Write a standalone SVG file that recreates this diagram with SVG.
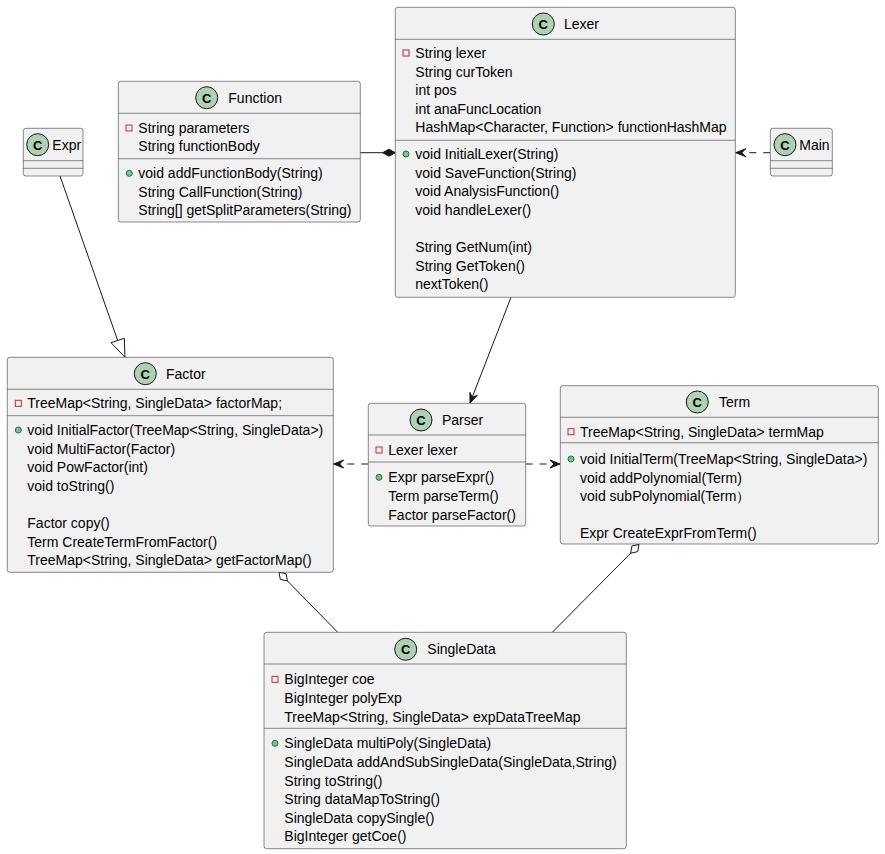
<svg xmlns="http://www.w3.org/2000/svg" width="885" height="854" viewBox="0 0 885 854">
<style>
.box{fill:#F1F1F1;stroke:#181818;stroke-width:0.5}
.sep{stroke:#181818;stroke-width:0.5}
.ci{fill:#ADD1B2;stroke:#181818;stroke-width:1}
.cl{font-family:"Liberation Sans",Arial,sans-serif;font-size:13px;font-weight:bold;fill:#000;text-anchor:middle}
text{font-family:"Liberation Sans",Arial,sans-serif;font-size:14px;fill:#000}
.priv{fill:none;stroke:#C82930;stroke-width:1}
.pub{fill:#84BE84;stroke:#038048;stroke-width:1}
.ln{stroke:#181818;stroke-width:1;fill:none}
.dash{stroke-dasharray:7,7}
</style>
<defs>
<marker id="arr" viewBox="-11 -5 12 10" refX="0" refY="0" markerWidth="12" markerHeight="10" markerUnits="userSpaceOnUse" orient="auto">
<path d="M0,0 L-10,-4 L-6,0 L-10,4 Z" fill="#181818" stroke="#181818" stroke-width="1"/>
</marker>
</defs>

<g id="connectors">
<line class="ln" x1="360.3" y1="152.7" x2="383" y2="152.7"/>
<polygon points="395.3,152.7 389,149.2 382.6,152.7 389,156.2" fill="#181818" stroke="#181818" stroke-width="1"/>
<line class="ln dash" x1="770.3" y1="152.7" x2="735.8" y2="152.7" marker-end="url(#arr)"/>
<line class="ln" x1="511" y1="297.3" x2="470" y2="403" marker-end="url(#arr)"/>
<line class="ln dash" x1="525.7" y1="464" x2="560" y2="464" marker-end="url(#arr)"/>
<line class="ln dash" x1="368.3" y1="464" x2="333.6" y2="464" marker-end="url(#arr)"/>
<line class="ln" x1="60" y1="176" x2="117.7" y2="340.5"/>
<polygon points="125,357.3 111,342.7 124.3,338.3" fill="none" stroke="#181818" stroke-width="1"/>
<polygon points="279,572.3 286.1,573.8 287.4,580.9 280.3,579.4" fill="#FFFFFF" stroke="#181818" stroke-width="1"/>
<line class="ln" x1="287.4" y1="580.9" x2="337.7" y2="632.3"/>
<polygon points="639,544.5 637.7,551.6 630.7,553.2 631.9,546" fill="#FFFFFF" stroke="#181818" stroke-width="1"/>
<line class="ln" x1="630.7" y1="553.2" x2="552.3" y2="632.3"/>
</g>

<g id="Function">
<rect class="box" x="118.3" y="81.3" width="242" height="140.7" rx="2.5"/>
<circle class="ci" cx="206.7" cy="97.7" r="11"/>
<text class="cl" x="206.7" y="102.5">C</text>
<text x="228.3" y="102.7">Function</text>
<line class="sep" x1="118.3" y1="113.3" x2="360.3" y2="113.3"/>
<rect class="priv" x="126" y="125" width="6" height="6"/>
<text x="138.3" y="133">String parameters</text>
<text x="138.3" y="151.3">String functionBody</text>
<line class="sep" x1="118.3" y1="158.7" x2="360.3" y2="158.7"/>
<circle class="pub" cx="129.3" cy="173.3" r="3"/>
<text x="138.3" y="178.3">void addFunctionBody(String)</text>
<text x="138.3" y="196.7">String CallFunction(String)</text>
<text x="138.3" y="215">String[] getSplitParameters(String)</text>
</g>

<g id="Lexer">
<rect class="box" x="395.3" y="7.3" width="340" height="290" rx="2.5"/>
<circle class="ci" cx="543.3" cy="24" r="11"/>
<text class="cl" x="543.3" y="28.8">C</text>
<text x="564" y="29">Lexer</text>
<line class="sep" x1="395.3" y1="39.3" x2="735.3" y2="39.3"/>
<rect class="priv" x="403" y="50" width="6" height="6"/>
<text x="415.3" y="58">String lexer</text>
<text x="415.3" y="76.6">String curToken</text>
<text x="415.3" y="95.2">int pos</text>
<text x="415.3" y="113.8">int anaFuncLocation</text>
<text x="415.3" y="132.4">HashMap&lt;Character, Function&gt; functionHashMap</text>
<line class="sep" x1="395.3" y1="140.3" x2="735.3" y2="140.3"/>
<circle class="pub" cx="406" cy="154" r="3"/>
<text x="415.3" y="159">void InitialLexer(String)</text>
<text x="415.3" y="177.6">void SaveFunction(String)</text>
<text x="415.3" y="196.2">void AnalysisFunction()</text>
<text x="415.3" y="214.8">void handleLexer()</text>
<text x="415.3" y="252">String GetNum(int)</text>
<text x="415.3" y="270.6">String GetToken()</text>
<text x="415.3" y="289.2">nextToken()</text>
</g>

<g id="Main">
<rect class="box" x="770.3" y="128.3" width="62" height="47.7" rx="2.5"/>
<circle class="ci" cx="785" cy="144.7" r="11"/>
<text class="cl" x="785" y="149.5">C</text>
<text x="799.3" y="149.7">Main</text>
<line class="sep" x1="770.3" y1="160.7" x2="832.3" y2="160.7"/>
<line class="sep" x1="770.3" y1="168.3" x2="832.3" y2="168.3"/>
</g>

<g id="Expr">
<rect class="box" x="23.3" y="128.3" width="59.7" height="47.7" rx="2.5"/>
<circle class="ci" cx="37.7" cy="144.7" r="11"/>
<text class="cl" x="37.7" y="149.5">C</text>
<text x="52.3" y="149.7">Expr</text>
<line class="sep" x1="23.3" y1="160.7" x2="83" y2="160.7"/>
<line class="sep" x1="23.3" y1="168.3" x2="83" y2="168.3"/>
</g>

<g id="Factor">
<rect class="box" x="7.3" y="357.3" width="326" height="215" rx="2.5"/>
<circle class="ci" cx="145.3" cy="373.7" r="11"/>
<text class="cl" x="145.3" y="378.5">C</text>
<text x="166" y="378.7">Factor</text>
<line class="sep" x1="7.3" y1="389.3" x2="333.3" y2="389.3"/>
<rect class="priv" x="15.3" y="400.3" width="6" height="6"/>
<text x="27.3" y="408.3">TreeMap&lt;String, SingleData&gt; factorMap;</text>
<line class="sep" x1="7.3" y1="415.7" x2="333.3" y2="415.7"/>
<circle class="pub" cx="18.3" cy="430" r="3"/>
<text x="27.3" y="435">void InitialFactor(TreeMap&lt;String, SingleData&gt;)</text>
<text x="27.3" y="453.6">void MultiFactor(Factor)</text>
<text x="27.3" y="472.2">void PowFactor(int)</text>
<text x="27.3" y="490.8">void toString()</text>
<text x="27.3" y="528">Factor copy()</text>
<text x="27.3" y="546.6">Term CreateTermFromFactor()</text>
<text x="27.3" y="565.2">TreeMap&lt;String, SingleData&gt; getFactorMap()</text>
</g>

<g id="Parser">
<rect class="box" x="368.3" y="403.3" width="157.4" height="122.7" rx="2.5"/>
<circle class="ci" cx="421" cy="420" r="11"/>
<text class="cl" x="421" y="424.8">C</text>
<text x="442" y="425">Parser</text>
<line class="sep" x1="368.3" y1="435" x2="525.7" y2="435"/>
<rect class="priv" x="376" y="447" width="6" height="6"/>
<text x="388.3" y="455">Lexer lexer</text>
<line class="sep" x1="368.3" y1="462" x2="525.7" y2="462"/>
<circle class="pub" cx="379" cy="477.3" r="3"/>
<text x="388.3" y="482.3">Expr parseExpr()</text>
<text x="388.3" y="500.9">Term parseTerm()</text>
<text x="388.3" y="519.5">Factor parseFactor()</text>
</g>

<g id="Term">
<rect class="box" x="560.3" y="385.7" width="318" height="158.3" rx="2.5"/>
<circle class="ci" cx="697.3" cy="402" r="11"/>
<text class="cl" x="697.3" y="406.8">C</text>
<text x="719" y="407">Term</text>
<line class="sep" x1="560.3" y1="417.3" x2="878.3" y2="417.3"/>
<rect class="priv" x="568" y="428.7" width="6" height="6"/>
<text x="580" y="436.7">TreeMap&lt;String, SingleData&gt; termMap</text>
<line class="sep" x1="560.3" y1="442.7" x2="878.3" y2="442.7"/>
<circle class="pub" cx="571" cy="459" r="3"/>
<text x="580" y="464">void InitialTerm(TreeMap&lt;String, SingleData&gt;)</text>
<text x="580" y="482.6">void addPolynomial(Term)</text>
<text x="580" y="501.2">void subPolynomial(Term）</text>
<text x="580" y="538.4">Expr CreateExprFromTerm()</text>
</g>

<g id="SingleData">
<rect class="box" x="264" y="632.3" width="362.3" height="216.4" rx="2.5"/>
<circle class="ci" cx="405.7" cy="649.3" r="11"/>
<text class="cl" x="405.7" y="654.1">C</text>
<text x="427.3" y="654.3">SingleData</text>
<line class="sep" x1="264" y1="664" x2="626.3" y2="664"/>
<rect class="priv" x="272" y="676.3" width="6" height="6"/>
<text x="284.3" y="684.3">BigInteger coe</text>
<text x="284.3" y="702.9">BigInteger polyExp</text>
<text x="284.3" y="721.5">TreeMap&lt;String, SingleData&gt; expDataTreeMap</text>
<line class="sep" x1="264" y1="728.3" x2="626.3" y2="728.3"/>
<circle class="pub" cx="275" cy="743.3" r="3"/>
<text x="284.3" y="748.3">SingleData multiPoly(SingleData)</text>
<text x="284.3" y="766.9">SingleData addAndSubSingleData(SingleData,String)</text>
<text x="284.3" y="785.5">String toString()</text>
<text x="284.3" y="804.1">String dataMapToString()</text>
<text x="284.3" y="822.7">SingleData copySingle()</text>
<text x="284.3" y="841.3">BigInteger getCoe()</text>
</g>
</svg>
